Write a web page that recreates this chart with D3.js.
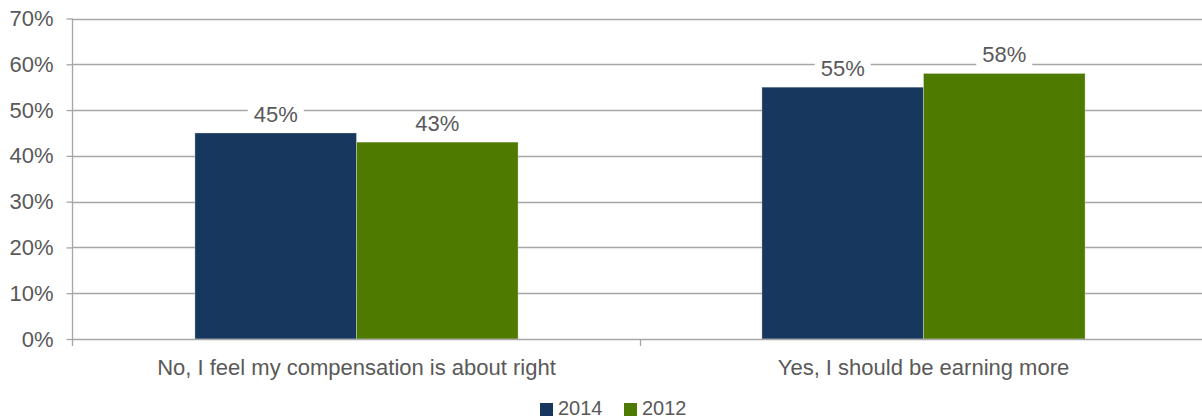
<!DOCTYPE html>
<html>
<head>
<meta charset="utf-8">
<script src="https://cdn.jsdelivr.net/npm/d3@7"></script>
<style>
  html, body { margin: 0; padding: 0; background: #fff; }
  svg text { font-family: "Liberation Sans", Arial, Helvetica, sans-serif; fill: #595959; }
</style>
</head>
<body>
<svg id="chart" width="1202" height="419"></svg>
<script>
const categories = ["No, I feel my compensation is about right", "Yes, I should be earning more"];
const seriesNames = ["2014", "2012"];
const values2014 = [45, 55];
const values2012 = [43, 58];
const yTicks = [0, 10, 20, 30, 40, 50, 60, 70];
const colors = ["#17375e", "#4f7a00"];

(function () {
const svg = d3.select("#chart");
const W = 1202;
const plotLeft = 72, plotTop = 18.5, plotBottom = 339;
const fontSize = 22;

const x0 = d3.scaleBand().domain(categories).range([plotLeft + 1, 1207]).paddingInner(0.43).paddingOuter(0.215);
const x1 = d3.scaleBand().domain(seriesNames).range([0, x0.bandwidth()]);
const y = d3.scaleLinear().domain([0, 70]).range([plotBottom, plotTop]);

const seriesValues = { "2014": values2014, "2012": values2012 };
const data = categories.map((c, i) => ({ cat: c, vals: seriesNames.map(s => ({ s, v: seriesValues[s][i] })) }));

// gridlines
svg.append("g").selectAll("line").data(yTicks.filter(t => t > 0)).join("line")
  .attr("x1", plotLeft).attr("x2", W)
  .attr("y1", d => Math.round(y(d)) + 0.5).attr("y2", d => Math.round(y(d)) + 0.5)
  .attr("stroke", "#a6a6a6").attr("stroke-width", 1.3);

// y axis
const yAxis = svg.append("g").attr("transform", `translate(${plotLeft + 0.5},0)`)
  .call(d3.axisLeft(y).tickValues(yTicks).tickFormat(d => d + "%").tickSize(6).tickPadding(13));
yAxis.select(".domain").remove();
yAxis.selectAll(".tick line").attr("stroke", "#a6a6a6").attr("stroke-width", 1.3);
yAxis.selectAll(".tick text").style("font-size", fontSize + "px").attr("fill", "#595959")
  .style("font-family", '"Liberation Sans", Arial, sans-serif');
svg.append("line").attr("x1", plotLeft + 0.5).attr("x2", plotLeft + 0.5).attr("y1", plotTop).attr("y2", plotBottom + 7)
  .attr("stroke", "#a6a6a6").attr("stroke-width", 1.3);

// bars
const groups = svg.append("g").selectAll("g").data(data).join("g")
  .attr("transform", d => `translate(${x0(d.cat)},0)`);
groups.selectAll("rect").data(d => d.vals).join("rect")
  .attr("x", d => x1(d.s)).attr("width", x1.bandwidth())
  .attr("y", d => y(d.v)).attr("height", d => y(0) - y(d.v))
  .attr("fill", (d, i) => colors[i])
  .attr("stroke", "rgba(255,255,255,0.3)").attr("stroke-width", 1);

// value labels with white background
groups.each(function(d) {
  const g = d3.select(this);
  d.vals.forEach(v => {
    const cx = x1(v.s) + x1.bandwidth() / 2;
    const by = y(v.v) - 11;
    const t = g.append("text").attr("x", cx).attr("y", by).attr("text-anchor", "middle")
      .style("font-size", fontSize + "px").text(v.v + "%");
    const bb = t.node().getBBox();
    g.insert("rect", "text").attr("x", bb.x - 6).attr("y", bb.y + 1).attr("width", bb.width + 12).attr("height", bb.height - 2)
      .attr("fill", "#fff");
  });
});

// x axis
svg.append("line").attr("x1", plotLeft).attr("x2", W).attr("y1", plotBottom + 0.5).attr("y2", plotBottom + 0.5)
  .attr("stroke", "#a6a6a6").attr("stroke-width", 1.3);
const boundaries = categories.slice(1).map(c => x0(c) - x0.step() * x0.paddingInner() / 2);
svg.append("g").selectAll("line").data(boundaries).join("line")
  .attr("x1", d => Math.round(d) + 0.5).attr("x2", d => Math.round(d) + 0.5)
  .attr("y1", plotBottom).attr("y2", plotBottom + 7)
  .attr("stroke", "#a6a6a6").attr("stroke-width", 1.3);
const xAxis = svg.append("g").attr("transform", `translate(0,${plotBottom})`)
  .call(d3.axisBottom(x0).tickSize(0).tickPadding(20));
xAxis.select(".domain").remove();
xAxis.selectAll(".tick text").style("font-size", fontSize + "px").attr("fill", "#595959")
  .style("font-family", '"Liberation Sans", Arial, sans-serif');

// legend
const legend = svg.append("g").attr("transform", "translate(540,402)");
const items = [{ s: seriesNames[0], x: 0 }, { s: seriesNames[1], x: 84 }];
items.forEach((it, i) => {
  legend.append("rect").attr("x", it.x).attr("y", 1).attr("width", 13).attr("height", 13).attr("fill", colors[i]);
  legend.append("text").attr("x", it.x + 18).attr("y", 12.5).style("font-size", "20px").text(it.s);
});
})();
</script>
</body>
</html>
